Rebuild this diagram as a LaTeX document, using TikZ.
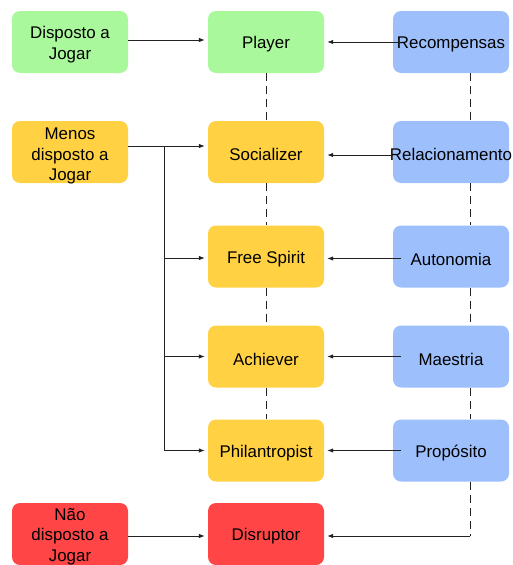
\documentclass[tikz,border=0pt]{standalone}
\usepackage{fontspec}
\setmainfont{Liberation Sans}
\usetikzlibrary{arrows.meta}
\definecolor{cgreen}{HTML}{A9F89B}
\definecolor{cyellow}{HTML}{FFD143}
\definecolor{cblue}{HTML}{9DBFFC}
\definecolor{cred}{HTML}{FF4545}
\definecolor{cline}{HTML}{222222}
\tikzset{
  box/.style={rectangle, rounded corners=8pt, minimum width=116pt, minimum height=62pt,
    inner sep=0pt},
  txt/.style={align=center, text=black, yshift=-2.5pt, inner sep=0pt,
    font=\fontsize{16.9}{20.5}\selectfont},
  greenbox/.style={box, fill=cgreen},
  yellowbox/.style={box, fill=cyellow},
  bluebox/.style={box, fill=cblue},
  redbox/.style={box, fill=cred},
  link/.style={draw=cline, line width=0.85pt},
  arr/.style={link, -{Latex[length=6pt,width=4.5pt]}, shorten >=3pt},
  dashlink/.style={link, dash pattern=on 8pt off 5pt},
}
\begin{document}
\begin{tikzpicture}[x=1pt,y=-1pt]
\useasboundingbox (0,0) rectangle (512,565);

% left column: willingness to play
\node[greenbox,  label={[txt]center:Disposto a\\Jogar}]         (dis)   at (70,42)  {};
\node[yellowbox, label={[txt,yshift=-1.5pt]center:Menos\\disposto a\\Jogar}] (menos) at (70,152) {};
\node[redbox,    label={[txt]center:Não\\disposto a\\Jogar}]   (nao)   at (70,534) {};

% middle column: player types
\node[greenbox,  label={[txt]center:Player}]        (player) at (266,42)    {};
\node[yellowbox, label={[txt]center:Socializer}]    (soc)    at (266,152)   {};
\node[yellowbox, label={[txt]center:Free Spirit}]   (fs)     at (266,256.5) {};
\node[yellowbox, label={[txt]center:Achiever}]      (ach)    at (266,356.5) {};
\node[yellowbox, label={[txt]center:Philantropist}] (phil)   at (266,450.5) {};
\node[redbox,    label={[txt]center:Disruptor}]     (disr)   at (266,534)   {};

% right column: motivations
\node[bluebox, label={[txt]center:Recompensas}]    (rec)  at (451,42)    {};
\node[bluebox, label={[txt]center:Relacionamento}] (rel)  at (451,152)   {};
\node[bluebox, label={[txt]center:Autonomia}]      (aut)  at (451,256.5) {};
\node[bluebox, label={[txt]center:Maestria}]       (mae)  at (451,356.5) {};
\node[bluebox, label={[txt]center:Propósito}]      (prop) at (451,450.5) {};

% dashed ties between the rows
\draw[dashlink] (player.south) -- (soc.north);
\draw[dashlink] (soc.south) -- (fs.north);
\draw[dashlink] (fs.south) -- (ach.north);
\draw[dashlink] (ach.south) -- (phil.north);
\draw[dashlink] ([xshift=19pt]rec.south) -- ([xshift=19pt]rel.north);
\draw[dashlink] ([xshift=19pt]rel.south) -- ([xshift=19pt]aut.north);
\draw[dashlink] ([xshift=19pt]aut.south) -- ([xshift=19pt]mae.north);
\draw[dashlink] ([xshift=19pt]mae.south) -- ([xshift=19pt]prop.north);
\coordinate (corner) at ([xshift=19pt,yshift=-2pt]prop.south |- disr.east);
\draw[dashlink] ([xshift=19pt]prop.south) -- (corner);
\draw[arr] (corner) -- (corner -| disr.east);

% left column into player types
\draw[arr] ([yshift=2pt]dis.east) -- ([yshift=2pt]player.west);
\draw[arr] ([yshift=6pt]menos.east) -- ([yshift=6pt]soc.west);
\coordinate (trunk) at ([yshift=6pt]menos.east -| 164,0);
\draw[link] (trunk) -- (trunk |- fs.west);
\draw[arr] ([yshift=-1.5pt]trunk |- fs.west) -- ([yshift=-1.5pt]fs.west);
\draw[arr] (trunk |- ach.west) -- (ach.west);
\draw[arr] (trunk) |- (phil.west);
\draw[arr] ([yshift=-2pt]nao.east) -- ([yshift=-2pt]disr.west);

% motivations into player types
\draw[arr] ([xshift=8pt]rec.west) -- (player.east);
\draw[arr] ([xshift=-2pt,yshift=-3pt]rel.west) -- ([yshift=-3pt]soc.east);
\draw[arr] ([xshift=8pt,yshift=-2pt]aut.west) -- ([yshift=-2pt]fs.east);
\draw[arr] ([xshift=8pt]mae.west) -- (ach.east);
\draw[arr] ([xshift=8pt]prop.west) -- (phil.east);
\end{tikzpicture}
\end{document}
